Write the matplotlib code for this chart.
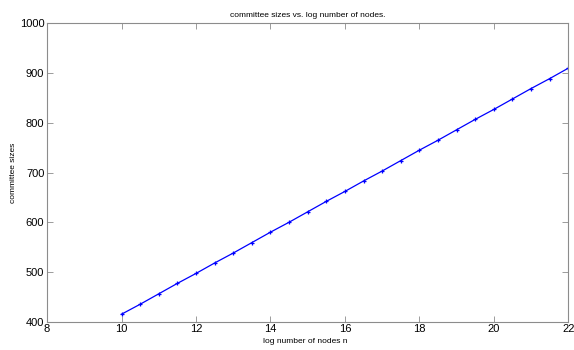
import numpy as np
import matplotlib.pyplot as plt

plt.rcParams['font.family'] = ['Liberation Sans', 'DejaVu Sans']

# log number of nodes
log_n = [10, 10.5, 11, 11.5, 12, 12.5, 13, 13.5, 14, 14.5, 15, 15.5, 16,
         16.5, 17, 17.5, 18, 18.5, 19, 19.5, 20, 20.5, 21, 21.5, 22]
# committee sizes
sizes = [415, 435, 456, 477, 497, 518, 538, 559, 580, 600, 621, 642, 662,
         683, 703, 724, 745, 765, 786, 807, 827, 848, 869, 889, 910]

xticks = [8, 10, 12, 14, 16, 18, 20, 22]
yticks = [400, 500, 600, 700, 800, 900, 1000]

fig = plt.figure(figsize=(5.74, 3.5), dpi=100)
ax = fig.add_axes([0.082, 0.081, 0.908, 0.852])

ax.plot(log_n, sizes, '-', color='blue', lw=0.9,
        marker='+', ms=3.5, mew=0.9)

ax.set_xlim(8, 22)
ax.set_ylim(400, 1000)
ax.set_xticks(xticks)
ax.set_yticks(yticks)

for s in ax.spines.values():
    s.set_color('#8c8c8c')
    s.set_linewidth(0.8)
ax.tick_params(direction='in', length=4, width=0.6, color='#8c8c8c',
               top=True, right=True, labelsize=8, pad=2)

ax.set_title('committee sizes vs. log number of nodes.', fontsize=6, pad=5)
ax.set_xlabel('log number of nodes n', fontsize=6)
ax.set_ylabel('committee sizes', fontsize=6)
ax.xaxis.set_label_coords(0.495, -0.054)
ax.yaxis.set_label_coords(-0.058, 0.5)

fig.savefig('out.png', dpi=100)
